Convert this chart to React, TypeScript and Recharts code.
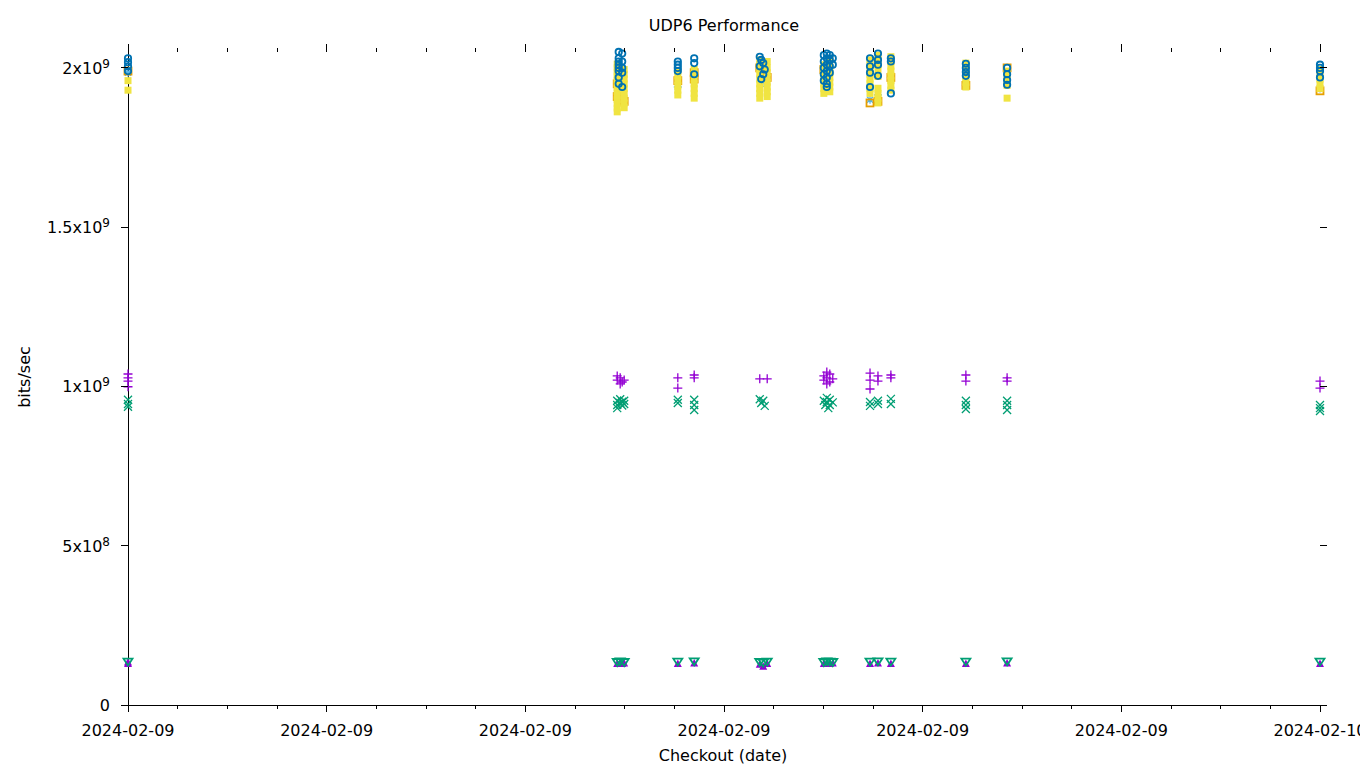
import React from 'react';
import { ScatterChart, Scatter, XAxis, YAxis } from 'recharts';

// time of day in hours since 2024-02-09 00:00, values in Gbit/s
const HOUR_TICKS = [0, 1, 2, 3, 4, 5, 6, 7, 8, 9, 10, 11, 12, 13, 14, 15, 16, 17, 18, 19, 20, 21, 22, 23, 24];
const Y_TICKS = [0, 0.5, 1, 1.5, 2];

const UDP_PLUS: [number, number][] = [
  [0, 1.039], [0, 1.027], [0, 1.017], [0, 0.999],
  [9.85, 1.033], [9.85, 1.02], [9.91, 1.027], [9.91, 1.008], [9.95, 1.014], [9.99, 1.02],
  [11.07, 1.027], [11.07, 0.995],
  [11.4, 1.036], [11.4, 1.027],
  [12.72, 1.024], [12.87, 1.024],
  [14.01, 1.033], [14.01, 1.02], [14.07, 1.045], [14.07, 1.027], [14.07, 1.008], [14.13, 1.039], [14.13, 1.014], [14.19, 1.024],
  [14.94, 1.042], [14.94, 1.02], [14.94, 0.992],
  [15.1, 1.033], [15.1, 1.017],
  [15.36, 1.036], [15.36, 1.027],
  [16.87, 1.036], [16.87, 1.017],
  [17.7, 1.027], [17.7, 1.017],
  [24, 1.017], [24, 0.995],
];

const UDP_CROSS: [number, number][] = [
  [0, 0.958], [0, 0.945], [0, 0.936],
  [9.85, 0.955], [9.85, 0.942], [9.85, 0.932], [9.91, 0.96], [9.91, 0.948], [9.95, 0.952], [9.95, 0.94], [9.99, 0.955], [9.99, 0.945],
  [11.07, 0.958], [11.07, 0.948],
  [11.4, 0.958], [11.4, 0.942], [11.4, 0.926],
  [12.72, 0.96], [12.75, 0.948], [12.79, 0.955], [12.82, 0.939],
  [14.01, 0.955], [14.04, 0.942], [14.07, 0.964], [14.07, 0.951], [14.1, 0.932], [14.13, 0.958], [14.13, 0.942], [14.19, 0.95],
  [14.94, 0.951], [14.94, 0.939],
  [15.1, 0.955], [15.1, 0.945],
  [15.36, 0.961], [15.36, 0.945],
  [16.87, 0.955], [16.87, 0.942], [16.87, 0.929],
  [17.7, 0.955], [17.7, 0.942], [17.7, 0.926],
  [24, 0.942], [24, 0.932], [24, 0.923],
];

const UDP_STAR: [number, number][] = [
  [0, 1.985], [9.85, 1.92], [9.95, 1.98], [11.07, 1.94], [11.4, 1.965], [12.85, 1.95],
  [14.94, 1.9], [15.1, 1.895], [15.1, 1.915], [15.36, 1.97], [16.87, 1.945], [24, 1.935],
];

const UDP_OPEN_SQUARE: [number, number][] = [
  [0, 1.99], [9.85, 1.95], [9.85, 1.91], [9.91, 1.99], [9.99, 1.895], [9.95, 1.955],
  [11.07, 1.96], [11.4, 1.985], [11.4, 1.965],
  [12.72, 2.0], [12.79, 1.985], [12.87, 1.97], [14.01, 1.995], [14.07, 1.975],
  [14.94, 1.89], [15.1, 1.895], [15.36, 1.97], [16.87, 1.945], [17.7, 2.0], [24, 1.928],
];

const UDP_FILLED_SQUARE: [number, number][] = [
  [0, 1.96], [0, 1.93],
  [9.85, 1.862], [9.85, 1.874], [9.85, 1.887], [9.85, 1.9], [9.85, 1.912], [9.85, 1.925], [9.85, 1.937],
  [9.85, 1.95], [9.85, 1.962], [9.85, 1.975], [9.85, 1.987], [9.85, 2.0], [9.85, 2.012],
  [9.99, 1.875], [9.99, 1.89], [9.99, 1.905], [9.99, 1.92], [9.99, 1.935], [9.99, 1.95], [9.99, 1.965], [9.99, 1.98], [9.99, 1.995],
  [11.07, 1.915], [11.07, 1.93], [11.07, 1.945], [11.07, 1.96], [11.07, 1.975], [11.07, 1.99],
  [11.4, 1.905], [11.4, 1.92], [11.4, 1.935], [11.4, 1.95], [11.4, 1.965], [11.4, 1.98], [11.4, 1.995],
  [12.72, 1.905], [12.72, 1.92], [12.72, 1.935], [12.72, 1.95], [12.72, 1.965], [12.72, 1.98], [12.72, 1.995], [12.72, 2.01], [12.72, 2.025],
  [12.87, 1.91], [12.87, 1.925], [12.87, 1.94], [12.87, 1.955], [12.87, 1.97], [12.87, 1.985], [12.87, 2.0], [12.87, 2.02],
  [14.01, 1.92], [14.01, 1.935], [14.01, 1.95], [14.01, 1.965], [14.01, 1.98], [14.01, 1.995], [14.01, 2.01],
  [14.13, 1.925], [14.13, 1.94], [14.13, 1.955], [14.13, 1.97], [14.13, 1.985], [14.13, 2.0], [14.13, 2.015], [14.13, 2.03],
  [14.94, 1.92], [14.94, 1.935], [14.94, 1.95], [14.94, 1.965], [14.94, 1.98], [14.94, 1.995], [14.94, 2.01], [14.94, 2.025],
  [15.1, 1.89], [15.1, 1.905], [15.1, 1.92], [15.1, 1.936], [15.1, 1.973], [15.1, 1.995], [15.1, 2.01], [15.1, 2.025], [15.1, 2.04],
  [15.36, 1.93], [15.36, 1.945], [15.36, 1.96], [15.36, 1.975], [15.36, 1.99], [15.36, 2.005], [15.36, 2.02], [15.36, 2.035],
  [16.87, 1.94], [16.87, 1.955], [16.87, 1.97], [16.87, 1.985], [16.87, 2.0], [16.87, 2.015],
  [17.7, 1.905], [17.7, 1.945], [17.7, 1.96], [17.7, 1.975], [17.7, 1.99],
  [24, 1.935], [24, 1.95], [24, 1.965], [24, 1.98], [24, 1.995],
];

const UDP_CIRCLE: [number, number][] = [
  [0, 2.03], [0, 2.018], [0, 2.005], [0, 1.99],
  [9.88, 2.05], [9.88, 2.03], [9.88, 2.02], [9.88, 2.01], [9.88, 2.0], [9.88, 1.99], [9.88, 1.97], [9.88, 1.95],
  [9.95, 2.045], [9.95, 2.02], [9.95, 2.0], [9.95, 1.985], [9.95, 1.94],
  [11.07, 2.02], [11.07, 2.01], [11.07, 2.0], [11.07, 1.99],
  [11.4, 2.03], [11.4, 2.015], [11.4, 1.98],
  [12.72, 2.035], [12.75, 2.025], [12.79, 2.015], [12.72, 2.005], [12.82, 1.995], [12.79, 1.98], [12.75, 1.965],
  [14.01, 2.04], [14.01, 2.02], [14.01, 2.0], [14.01, 1.98], [14.01, 1.96],
  [14.07, 2.045], [14.07, 2.03], [14.07, 2.01], [14.07, 1.99], [14.07, 1.97], [14.07, 1.95], [14.07, 1.94],
  [14.13, 2.04], [14.13, 2.025], [14.13, 2.005], [14.13, 1.985], [14.19, 2.03], [14.19, 2.01],
  [14.94, 2.03], [14.94, 2.005], [14.94, 1.985], [14.94, 1.94],
  [15.1, 2.045], [15.1, 2.025], [15.1, 2.01], [15.1, 1.975],
  [15.36, 2.03], [15.36, 2.02], [15.36, 1.92],
  [16.87, 2.013], [16.87, 2.0], [16.87, 1.987], [16.87, 1.975],
  [17.7, 2.0], [17.7, 1.98], [17.7, 1.962], [17.7, 1.947],
  [24, 2.01], [24, 2.0], [24, 1.99], [24, 1.97],
];

const UDP_TRIANGLE: [number, number][] = [
  [0, 0.13], [0, 0.135], [9.85, 0.13], [9.91, 0.135], [9.95, 0.13], [9.99, 0.132],
  [11.07, 0.13], [11.4, 0.132], [12.72, 0.128], [12.79, 0.122], [12.87, 0.13],
  [14.01, 0.13], [14.07, 0.133], [14.13, 0.13], [14.19, 0.132],
  [14.94, 0.13], [15.1, 0.132], [15.36, 0.13], [16.87, 0.13], [17.7, 0.132], [24, 0.13],
];

const UDP_DOWN_TRIANGLE: [number, number][] = [
  [0, 0.136], [9.85, 0.135], [9.91, 0.137], [9.99, 0.135], [11.07, 0.136], [11.4, 0.137],
  [12.72, 0.135], [12.79, 0.133], [12.87, 0.136],
  [14.01, 0.135], [14.07, 0.137], [14.13, 0.136], [14.19, 0.135],
  [14.94, 0.136], [15.1, 0.137], [15.36, 0.136], [16.87, 0.136], [17.7, 0.137], [24, 0.136],
];

const PLOT_TOP = 44;
const PLOT_BOTTOM = 705;
const PLOT_LEFT = 128;
const PLOT_RIGHT = 1320;
const FONT = '"DejaVu Sans", sans-serif';

const toRows = (pts: [number, number][]) => pts.map(([t, v]) => ({ t, v }));

const dateLabel = (h: number) => {
  const day = 9 + Math.floor(h / 24);
  return `2024-02-${day < 10 ? '0' + day : day}`;
};

const XTick = (props: any) => {
  const { x, payload } = props;
  const major = payload.value % 4 === 0;
  return (
    <g shapeRendering="crispEdges">
      <line x1={x} x2={x} y1={PLOT_BOTTOM} y2={PLOT_BOTTOM + (major ? 7 : 4)} stroke="#000" />
      <line x1={x} x2={x} y1={PLOT_TOP + 8} y2={PLOT_TOP + (major ? 0 : 4)} stroke="#000" />
      {major && (
        <text x={x} y={736} textAnchor="middle" fontSize={16} fontFamily={FONT} fill="#000">
          {dateLabel(payload.value)}
        </text>
      )}
    </g>
  );
};

const YTick = (props: any) => {
  const { y, payload } = props;
  const v = payload.value * 1e9;
  let label: React.ReactNode = '0';
  if (v > 0) {
    const exp = Math.floor(Math.log10(v));
    const mant = +(v / Math.pow(10, exp)).toFixed(2);
    label = (
      <>
        {`${mant}x10`}
        <tspan fontSize={12} dy={-6}>{exp}</tspan>
      </>
    );
  }
  return (
    <g>
      <line x1={PLOT_LEFT - 7} x2={PLOT_LEFT} y1={y} y2={y} stroke="#000" shapeRendering="crispEdges" />
      <line x1={PLOT_RIGHT} x2={PLOT_RIGHT + 7} y1={y} y2={y} stroke="#000" shapeRendering="crispEdges" />
      <text x={110} y={y + 6} textAnchor="end" fontSize={16} fontFamily={FONT} fill="#000">
        {label}
      </text>
    </g>
  );
};

const plusShape = (c: string) => (p: any) => (
  <path d={`M${p.cx - 4.5},${p.cy}h9M${p.cx},${p.cy - 4.5}v9`} stroke={c} strokeWidth={1.3} fill="none" />
);
const crossShape = (c: string) => (p: any) => (
  <path d={`M${p.cx - 4},${p.cy - 4}l8,8M${p.cx - 4},${p.cy + 4}l8,-8`} stroke={c} strokeWidth={1.3} fill="none" />
);
const starShape = (c: string) => (p: any) => (
  <path
    d={`M${p.cx - 4},${p.cy}h8M${p.cx},${p.cy - 4}v8M${p.cx - 3},${p.cy - 3}l6,6M${p.cx - 3},${p.cy + 3}l6,-6`}
    stroke={c}
    strokeWidth={1.3}
    fill="none"
  />
);
const openSquareShape = (c: string) => (p: any) => (
  <rect x={p.cx - 3.5} y={p.cy - 3.5} width={7} height={7} stroke={c} strokeWidth={1.8} fill="none" />
);
const filledSquareShape = (c: string) => (p: any) => (
  <rect x={p.cx - 3.5} y={p.cy - 3.5} width={7} height={7} fill={c} />
);
const circleShape = (c: string) => (p: any) => (
  <circle cx={p.cx} cy={p.cy} r={3.2} stroke={c} strokeWidth={1.8} fill="none" />
);
const triangleShape = (c: string) => (p: any) => (
  <path d={`M${p.cx - 4},${p.cy + 3.5}L${p.cx + 4},${p.cy + 3.5}L${p.cx},${p.cy - 4}Z`} fill={c} />
);
const downTriangleShape = (c: string) => (p: any) => (
  <path
    d={`M${p.cx - 4.5},${p.cy - 3}L${p.cx + 4.5},${p.cy - 3}L${p.cx},${p.cy + 4}Z`}
    stroke={c}
    strokeWidth={1.8}
    fill="none"
  />
);

const SERIES = [
  { name: 'plus', pts: UDP_PLUS, shape: plusShape('#9400d3') },
  { name: 'cross', pts: UDP_CROSS, shape: crossShape('#009e73') },
  { name: 'star', pts: UDP_STAR, shape: starShape('#56b4e9') },
  { name: 'osq', pts: UDP_OPEN_SQUARE, shape: openSquareShape('#e69f00') },
  { name: 'fsq', pts: UDP_FILLED_SQUARE, shape: filledSquareShape('#f0e442') },
  { name: 'circ', pts: UDP_CIRCLE, shape: circleShape('#0072b2') },
  { name: 'tri', pts: UDP_TRIANGLE, shape: triangleShape('#9400d3') },
  { name: 'dtri', pts: UDP_DOWN_TRIANGLE, shape: downTriangleShape('#009e73') },
];

export default function App() {
  return (
    <div style={{ position: 'absolute', left: 0, top: 0, width: 1360, height: 768, background: '#fff', fontFamily: FONT }}>
      <div style={{ position: 'absolute', left: 0, width: 1448, top: 16, textAlign: 'center', fontSize: 16, color: '#000' }}>
        UDP6 Performance
      </div>
      <div style={{ position: 'absolute', left: 0, width: 1446, top: 746, textAlign: 'center', fontSize: 16, color: '#000' }}>
        Checkout (date)
      </div>
      <div
        style={{
          position: 'absolute',
          left: 24,
          top: 377,
          fontSize: 16,
          color: '#000',
          whiteSpace: 'nowrap',
          transform: 'translate(-50%, -50%) rotate(-90deg)',
        }}
      >
        bits/sec
      </div>
      <ScatterChart width={1360} height={768} margin={{ top: PLOT_TOP, right: 1360 - PLOT_RIGHT, bottom: 0, left: 0 }}>
        <XAxis
          dataKey="t"
          type="number"
          domain={[0, 24]}
          ticks={HOUR_TICKS}
          interval={0}
          height={768 - PLOT_BOTTOM}
          tickLine={false}
          axisLine={{ stroke: '#000', shapeRendering: 'crispEdges' }}
          tick={<XTick />}
        />
        <YAxis
          dataKey="v"
          type="number"
          domain={[0, 2.075]}
          ticks={Y_TICKS}
          interval={0}
          width={PLOT_LEFT}
          tickLine={false}
          axisLine={{ stroke: '#000', shapeRendering: 'crispEdges' }}
          tick={<YTick />}
        />
        {SERIES.map((s) => (
          <Scatter key={s.name} data={toRows(s.pts)} dataKey="v" shape={s.shape} isAnimationActive={false} />
        ))}
      </ScatterChart>
    </div>
  );
}
